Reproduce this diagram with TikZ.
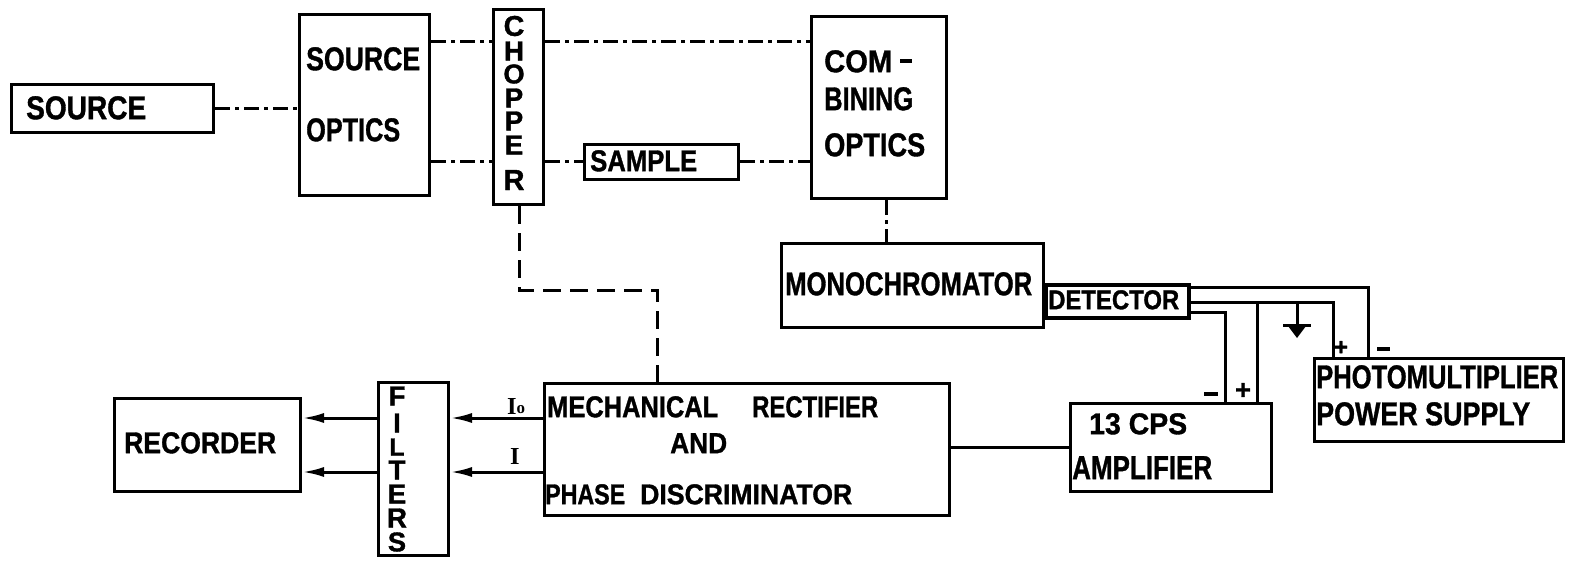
\documentclass[tikz,border=0pt]{standalone}
\usepackage{fontspec}
\setmainfont{Liberation Sans}
\newfontface\heavy{Liberation Sans Bold}[FakeBold=1.2]
\newfontfamily\serifI{Liberation Serif}
\usetikzlibrary{arrows.meta}
\newcommand{\tx}[3]{\resizebox{#1pt}{#2pt}{\heavy #3}}
\newcommand{\lh}[2]{\resizebox{!}{#1pt}{\heavy #2}}
\begin{document}
\begin{tikzpicture}[x=1pt,y=-1pt,
  blk/.style={draw, line width=3pt, inner sep=0pt, anchor=north west},
  txt/.style={inner sep=0pt, anchor=north west},
  ctr/.style={inner sep=0pt, anchor=center},
  ln/.style={line width=3pt},
  dd/.style={line width=3pt, dash pattern=on 15pt off 5pt on 4pt off 5pt},
  dsh/.style={line width=3pt, dash pattern=on 18pt off 9pt},
  arr/.style={line width=3pt, -{Latex[length=22pt,width=10pt]}}]
\useasboundingbox (0,0) rectangle (1575,563);
\fill[white] (0,0) rectangle (1575,563);

% boxes
\node[blk, minimum width=202pt, minimum height=48pt] (src) at (10,83) {};
\node[blk, minimum width=130pt, minimum height=181pt] (sopt) at (298,13) {};
\node[blk, minimum width=50pt, minimum height=195pt] (chop) at (492,8) {};
\node[blk, minimum width=154pt, minimum height=35pt] (samp) at (583,143) {};
\node[blk, minimum width=135pt, minimum height=182pt] (comb) at (810,15) {};
\node[blk, minimum width=262pt, minimum height=84pt] (mono) at (780,242) {};
\node[blk, line width=4pt, minimum width=143pt, minimum height=33pt] (det) at (1044,283) {};
\node[blk, minimum width=249pt, minimum height=83pt] (pmps) at (1313,357) {};
\node[blk, minimum width=201pt, minimum height=88pt] (amp) at (1069,402) {};
\node[blk, minimum width=405pt, minimum height=132pt] (mr) at (543,382) {};
\node[blk, minimum width=70pt, minimum height=173pt] (filt) at (377,381) {};
\node[blk, minimum width=186pt, minimum height=93pt] (rec) at (113,397) {};

% texts
\node[txt] (tsrc) at (26,96) {\tx{120}{23}{SOURCE}};
\node[txt] (tso1) at (306,47) {\tx{114}{23}{SOURCE}};
\node[txt] (tso2) at (306,118) {\tx{94}{23}{OPTICS}};
\node[ctr] (c1) at (514,26) {\lh{20}{C}};
\node[ctr] (c2) at (514,51) {\lh{19}{H}};
\node[ctr] (c3) at (514,74) {\lh{19}{O}};
\node[ctr] (c4) at (514,98) {\lh{19}{P}};
\node[ctr] (c5) at (514,121) {\lh{19}{P}};
\node[ctr] (c6) at (514,145) {\lh{19}{E}};
\node[ctr] (c7) at (514,180) {\lh{20}{R}};
\node[txt] (tsamp) at (590,150) {\tx{107}{21}{SAMPLE}};
\node[txt] (tcom) at (824,50) {\tx{68}{22}{COM}};
\node[txt] (tdash) at (900,59) {\tx{12}{4}{\rule{1em}{0.2em}}};
\node[txt] (tbin) at (824,87) {\tx{89}{23}{BINING}};
\node[txt] (topt) at (824,133) {\tx{101}{23}{OPTICS}};
\node[txt] (tmono) at (785,272) {\tx{247}{23}{MONOCHROMATOR}};
\node[txt] (tdet) at (1048,290) {\tx{131}{19}{DETECTOR}};
\node[txt] (tpm1) at (1316,365) {\tx{242}{23}{PHOTOMULTIPLIER}};
\node[txt] (tpm2) at (1316,402) {\tx{214}{23}{POWER SUPPLY}};
\node[txt] (tamp1) at (1089,413) {\tx{98}{21}{13 CPS}};
\node[txt] (tamp2) at (1072,456) {\tx{140}{23}{AMPLIFIER}};
\node[txt] (tmr1) at (547,396) {\tx{171}{21}{MECHANICAL}};
\node[txt] (tmr2) at (752,396) {\tx{126}{21}{RECTIFIER}};
\node[txt] (tmr3) at (670,433) {\tx{57}{20}{AND}};
\node[txt] (tmr4) at (545,484) {\tx{80}{20}{PHASE}};
\node[txt] (tmr5) at (640,484) {\tx{212}{20}{DISCRIMINATOR}};
\node[ctr] (f1) at (397,396) {\lh{19}{F}};
\node[ctr] (f2) at (397,423) {\lh{19}{I}};
\node[ctr] (f3) at (397,447) {\lh{17}{L}};
\node[ctr] (f4) at (397,470) {\lh{19}{T}};
\node[ctr] (f5) at (397,494) {\lh{19}{E}};
\node[ctr] (f6) at (397,518) {\lh{19}{R}};
\node[ctr] (f7) at (397,542) {\lh{19}{S}};
\node[txt] (trec) at (124,432) {\tx{152}{21}{RECORDER}};
\node[txt] (tI0) at (507,398) {\resizebox{!}{16pt}{\serifI\bfseries I}\raisebox{1pt}{\resizebox{!}{8pt}{\serifI\bfseries o}}};
\node[txt] (tI) at (510,448) {\resizebox{!}{16pt}{\serifI\bfseries I}};
\node[txt] (am) at (1204,392) {\tx{14}{4}{\rule{1em}{0.2em}}};
\node[ctr] (ap) at (1243,391) {\lh{16}{+}};
\node[ctr] (pp) at (1341,348) {\lh{14}{+}};
\node[txt] (pm) at (1377,347) {\tx{13}{4}{\rule{1em}{0.2em}}};

% optical paths
\draw[dd] (src.east) -- (sopt.west |- src.east);
\draw[dd] (sopt.east |- 0,41) -- (chop.west |- 0,41);
\draw[dd] (chop.east |- 0,41) -- (comb.west |- 0,41);
\draw[dd] (sopt.east |- 0,161) -- (chop.west |- 0,161);
\draw[dd] (chop.east |- 0,161) -- (samp.west |- 0,161);
\draw[dd] (samp.east |- 0,161) -- (comb.west |- 0,161);
\draw[dd] (comb.south -| 886,0) -- (mono.north -| 886,0);
\draw[dsh] (chop.south -| 519,0) -- (519,290) -| (mr.north -| 657,0);

% electrical
\draw[ln] (det.east |- 0,287) -| (pmps.north -| 1368,0);
\draw[ln] (det.east |- 0,302) -| (pmps.north -| 1333,0);
\draw[ln] (det.east |- 0,312) -| (amp.north -| 1225,0);
\coordinate (j1) at (1257,302);
\draw[ln] (j1) -- (amp.north -| 1257,0);
\coordinate (gnd) at (1297,302);
\draw[ln] (gnd) -- (1297,325);
\draw[ln] (1283,325) -- (1311,325);
\fill (1288,326) -- (1306,326) -- (1297,338) -- cycle;
\draw[ln] (mr.east |- amp.west) -- (amp.west);

% signal arrows
\draw[arr] (mr.west |- 0,418) -- (filt.east |- 0,418);
\draw[arr] (mr.west |- 0,472) -- (filt.east |- 0,472);
\draw[arr] (filt.west |- 0,418) -- (rec.east |- 0,418);
\draw[arr] (filt.west |- 0,472) -- (rec.east |- 0,472);
\end{tikzpicture}
\end{document}
